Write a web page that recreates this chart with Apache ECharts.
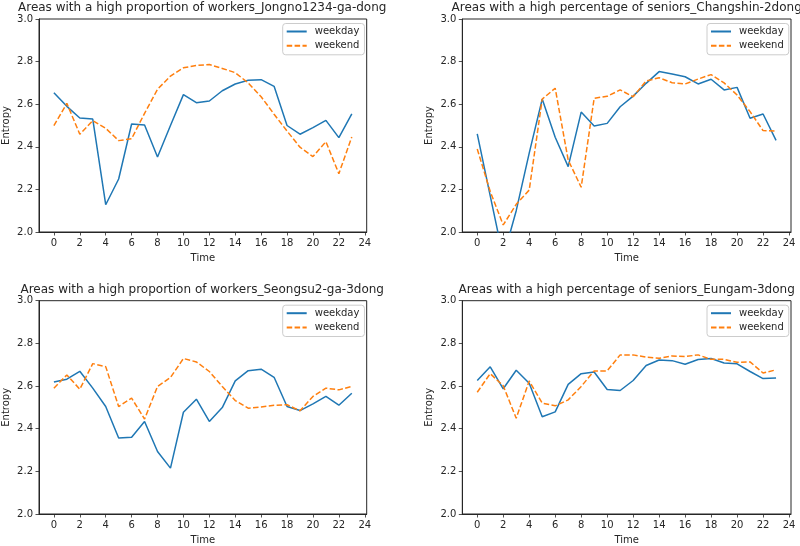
<!DOCTYPE html>
<html>
<head>
<meta charset="utf-8">
<script src="https://cdn.jsdelivr.net/npm/echarts@6/dist/echarts.min.js"></script>
<style>html,body{margin:0;padding:0;background:#fff}#c{width:800px;height:546px}</style>
</head>
<body>
<div id="c"></div>
<script>
var hours = [0,1,2,3,4,5,6,7,8,9,10,11,12,13,14,15,16,17,18,19,20,21,22,23];
var xTicks = [0,2,4,6,8,10,12,14,16,18,20,22,24];
var seriesNames = ['weekday','weekend'];
var titles = [
  'Areas with a high proportion of workers_Jongno1234-ga-dong',
  'Areas with a high percentage of seniors_Changshin-2dong',
  'Areas with a high proportion of workers_Seongsu2-ga-3dong',
  'Areas with a high percentage of seniors_Eungam-3dong'
];
var jongnoWeekday  = [2.654,2.59,2.535,2.53,2.128,2.249,2.507,2.502,2.352,2.50,2.645,2.607,2.615,2.663,2.695,2.712,2.715,2.684,2.50,2.459,2.49,2.524,2.443,2.555];
var jongnoWeekend  = [2.499,2.604,2.459,2.523,2.487,2.429,2.438,2.557,2.67,2.732,2.771,2.782,2.786,2.768,2.748,2.70,2.635,2.553,2.474,2.398,2.354,2.424,2.274,2.446];
var changshinWeekday = [2.461,2.17,1.88,2.10,2.37,2.624,2.445,2.307,2.563,2.498,2.51,2.588,2.638,2.698,2.753,2.742,2.729,2.695,2.717,2.667,2.679,2.534,2.554,2.43];
var changshinWeekend = [2.39,2.19,2.033,2.13,2.197,2.624,2.675,2.338,2.21,2.628,2.637,2.667,2.635,2.709,2.724,2.701,2.695,2.718,2.739,2.70,2.643,2.565,2.476,2.474];
var seongsuWeekday = [2.619,2.632,2.669,2.59,2.504,2.356,2.36,2.434,2.293,2.215,2.477,2.538,2.434,2.499,2.624,2.672,2.679,2.641,2.504,2.485,2.516,2.551,2.51,2.566];
var seongsuWeekend = [2.59,2.652,2.585,2.705,2.691,2.504,2.543,2.445,2.598,2.64,2.729,2.713,2.668,2.598,2.532,2.496,2.502,2.51,2.512,2.484,2.551,2.59,2.582,2.598];
var eungamWeekday = [2.626,2.69,2.587,2.674,2.613,2.456,2.479,2.608,2.658,2.666,2.584,2.579,2.626,2.696,2.722,2.719,2.702,2.724,2.729,2.708,2.704,2.668,2.635,2.638];
var eungamWeekend = [2.571,2.658,2.601,2.449,2.624,2.52,2.507,2.535,2.598,2.671,2.671,2.746,2.746,2.735,2.73,2.741,2.738,2.746,2.725,2.725,2.711,2.713,2.661,2.676];

var panelData = [
  [jongnoWeekday, jongnoWeekend],
  [changshinWeekday, changshinWeekend],
  [seongsuWeekday, seongsuWeekend],
  [eungamWeekday, eungamWeekend]
];

var FONT = 'DejaVu Sans';
var TXT = '#262626';
var AX = '#262626';
var grids = [
  {left: 37.7, top: 19, width: 329, height: 213},
  {left: 462.3, top: 19, width: 328.7, height: 213},
  {left: 37.7, top: 300.7, width: 329, height: 213.6},
  {left: 462.3, top: 300.7, width: 328.7, height: 213.6}
];
var colors = ['#1f77b4', '#ff7f0e'];

var option = {
  animation: false,
  backgroundColor: '#fff',
  title: [], grid: [], xAxis: [], yAxis: [], series: [], legend: []
};

grids.forEach(function (g, i) {
  option.grid.push({left: g.left, top: g.top, width: g.width, height: g.height,
    show: true, borderColor: AX, borderWidth: 1, backgroundColor: 'transparent', containLabel: false});
  option.title.push({
    text: titles[i], left: g.left + g.width / 2, top: g.top - 17, textAlign: 'center', padding: 0,
    textStyle: {fontFamily: FONT, fontSize: 12, fontWeight: 'normal', color: TXT}
  });
  option.xAxis.push({
    type: 'value', gridIndex: i, min: -1.15, max: 24.15,
    name: 'Time', nameLocation: 'middle', nameGap: 21,
    nameTextStyle: {fontFamily: FONT, fontSize: 10, color: TXT, verticalAlign: 'top'},
    axisLine: {show: true, onZero: false, lineStyle: {color: AX, width: 1}},
    axisTick: {show: true, length: 3.5, customValues: xTicks, lineStyle: {color: AX, width: 0.8}},
    axisLabel: {customValues: xTicks, margin: 6, fontFamily: FONT, fontSize: 10, color: TXT},
    splitLine: {show: false}
  });
  option.yAxis.push({
    type: 'value', gridIndex: i, min: 2, max: 3, interval: 0.2,
    name: 'Entropy', nameLocation: 'middle', nameGap: 28, nameRotate: 90,
    nameTextStyle: {fontFamily: FONT, fontSize: 10, color: TXT},
    axisLine: {show: true, onZero: false, lineStyle: {color: AX, width: 1}},
    axisTick: {show: true, length: 3.5, lineStyle: {color: AX, width: 0.8}},
    axisLabel: {margin: 6, fontFamily: FONT, fontSize: 10, color: TXT,
      formatter: function (v) { return v.toFixed(1); }},
    splitLine: {show: false}
  });
  seriesNames.forEach(function (nm, k) {
    option.series.push({
      type: 'line', name: nm, xAxisIndex: i, yAxisIndex: i,
      data: hours.map(function (h, j) { return [h, panelData[i][k][j]]; }),
      symbol: 'none', showSymbol: false, clip: true,
      lineStyle: {color: colors[k], width: 1.5, type: k === 1 ? [5.5, 2.4] : 'solid'},
      itemStyle: {color: colors[k]}
    });
  });
  option.legend.push({
    orient: 'vertical', left: g.left + g.width - 84, top: g.top + 4.5,
    data: seriesNames, itemWidth: 20, itemHeight: 10, itemGap: 4.3,
    padding: [3, 5, 4, 3], borderColor: '#cccccc', borderWidth: 1, borderRadius: 3,
    backgroundColor: 'rgba(255,255,255,0.8)',
    itemStyle: {opacity: 0},
    textStyle: {fontFamily: FONT, fontSize: 10, color: TXT, padding: [0, 0, 0, 3]}
  });
});

var chart = echarts.init(document.getElementById('c'), null, {renderer: 'canvas'});
chart.setOption(option);
</script>
</body>
</html>
